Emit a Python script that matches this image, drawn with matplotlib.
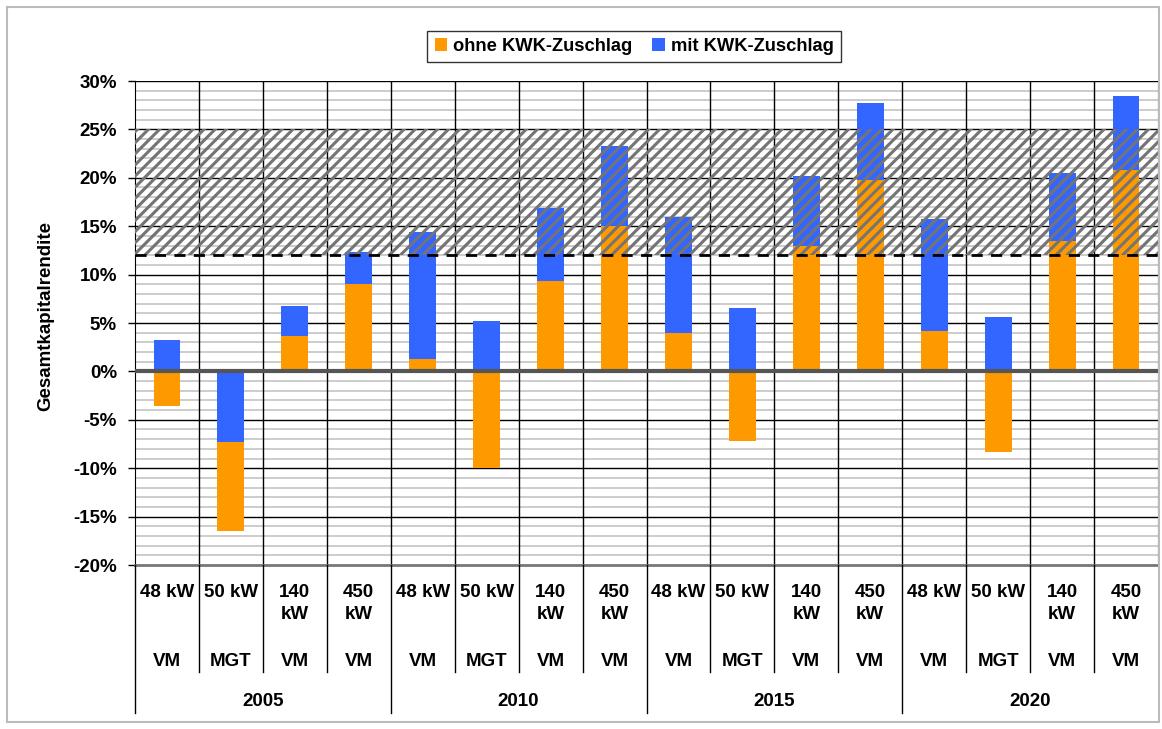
import matplotlib
matplotlib.use('Agg')
import matplotlib.pyplot as plt
import numpy as np
from matplotlib.patches import Rectangle, Patch
from matplotlib.lines import Line2D
from matplotlib.transforms import blended_transform_factory

plt.rcParams['font.family'] = ['Liberation Sans', 'DejaVu Sans']
plt.rcParams['font.weight'] = 'bold'
plt.rcParams['hatch.linewidth'] = 2.2

# Daten
years = ['2005', '2010', '2015', '2020']
sizes = ['48 kW', '50 kW', '140\nkW', '450\nkW']
types = ['VM', 'MGT', 'VM', 'VM']
ohne = [-3.6, -16.5, 3.7, 9.0,
        1.3, -10.0, 9.3, 15.0,
        4.0, -7.2, 13.0, 19.8,
        4.2, -8.3, 13.5, 20.8]
mit = [3.2, -7.3, 6.8, 12.3,
       14.4, 5.2, 16.9, 23.3,
       16.0, 6.5, 20.2, 27.7,
       15.7, 5.6, 20.5, 28.4]

orange = '#FF9900'
blue = '#3366FF'
fs = 13.5

fig = plt.figure(figsize=(11.62, 7.29), dpi=100)
ax = fig.add_axes([135 / 1162, 1 - 565 / 729, 1023 / 1162, 484 / 729])

n = len(ohne)
x = np.arange(n)
w = 0.42

# Balken aufbauen: orange = ohne, blau = Zuschlag
for i in range(n):
    o, m = ohne[i], mit[i]
    if o >= 0:
        ax.bar(x[i], o, w, bottom=0, color=orange, zorder=2)
        ax.bar(x[i], m - o, w, bottom=o, color=blue, zorder=2)
    elif m >= 0:
        ax.bar(x[i], o, w, bottom=0, color=orange, zorder=2)
        ax.bar(x[i], m, w, bottom=0, color=blue, zorder=2)
    else:
        ax.bar(x[i], m, w, bottom=0, color=blue, zorder=2)
        ax.bar(x[i], o - m, w, bottom=m, color=orange, zorder=2)

# Zielbereich schraffiert
ax.axhspan(12, 25, facecolor='none', edgecolor='#747474', hatch='///',
           linewidth=0, zorder=3)
ax.axhline(12, color='black', linestyle=(0, (4, 3)), linewidth=2, zorder=4)
ax.axhline(0, color='#555555', linewidth=3, zorder=4)

ax.set_xlim(-0.5, n - 0.5)
ax.set_ylim(-20, 30)
ax.set_yticks(np.arange(-20, 31, 5))
ax.set_yticklabels([f'{v}%' for v in range(-20, 31, 5)], fontsize=fs,
                   fontweight='bold')
ax.tick_params(axis='y', which='major', length=5, width=1, direction='out',
               pad=8)
ax.set_xticks([])

for v in range(-19, 30):
    if v % 5 != 0:
        ax.axhline(v, color='#c8c8c8', linewidth=1.3, zorder=1)
for v in range(-15, 31, 5):
    ax.axhline(v, color='black', linewidth=1.0, zorder=1)
for b in np.arange(0.5, n - 0.5, 1):
    ax.axvline(b, color='black', linewidth=1.0, zorder=1)

ax.spines['top'].set_visible(False)
ax.spines['right'].set_color('#555555')
ax.spines['left'].set_color('black')
ax.spines['bottom'].set_color('#777777')
ax.spines['bottom'].set_linewidth(2)

ax.set_ylabel('Gesamtkapitalrendite', fontsize=13.5, fontweight='bold')
ax.yaxis.set_label_coords(-0.079, 0.515)

# Kategorientabelle unter der Achse
H = 729.0
def fy(py):
    return 1 - py / H

tr = blended_transform_factory(ax.transData, fig.transFigure)
for i in range(n):
    ax.text(x[i], fy(584), sizes[i % 4], transform=tr, ha='center', va='top',
            fontsize=fs, fontweight='bold', linespacing=1.35)
    ax.text(x[i], fy(662), types[i % 4], transform=tr, ha='center',
            va='center', fontsize=fs, fontweight='bold')
for g, yr in enumerate(years):
    ax.text(g * 4 + 1.5, fy(702), yr, transform=tr, ha='center',
            va='center', fontsize=fs, fontweight='bold')

for b in np.arange(-0.5, n - 0.5, 1):
    grp = (b + 0.5) % 4 == 0
    y1 = fy(713) if grp else fy(672)
    fig.add_artist(Line2D([b, b], [fy(565), y1], transform=tr,
                          color='black', linewidth=1.0))

# Legende
handles = [Patch(facecolor=orange, label='ohne KWK-Zuschlag'),
           Patch(facecolor=blue, label='mit KWK-Zuschlag')]
fig.legend(handles=handles, loc='center', bbox_to_anchor=(634 / 1162, fy(46.5)),
           ncol=2, frameon=True, fancybox=False, edgecolor='black',
           prop={'weight': 'bold', 'size': 13.2}, handlelength=0.7,
           handleheight=0.7, handletextpad=0.3, columnspacing=1.1,
           borderpad=0.4, borderaxespad=0)

# Rahmen um die Grafik
fig.add_artist(Rectangle((7 / 1162, fy(722)), 1152 / 1162, 715 / H,
                         transform=fig.transFigure, fill=False,
                         edgecolor='#bbbbbb', linewidth=1.5))

plt.savefig('out.png', dpi=100)
